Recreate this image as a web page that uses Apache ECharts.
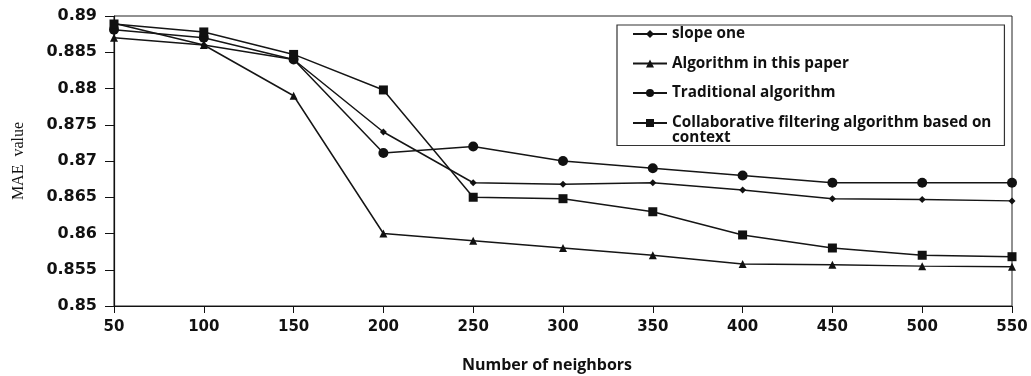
<!DOCTYPE html>
<html>
<head>
<meta charset="utf-8">
<script src="https://cdn.jsdelivr.net/npm/echarts@6/dist/echarts.min.js"></script>
<style>html,body{margin:0;padding:0;background:#fff;}#c{width:1031px;height:376px;}</style>
</head>
<body>
<div id="c"></div>
<script>
const categories = ['50','100','150','200','250','300','350','400','450','500','550'];
const slopeOne     = [0.8890, 0.8860, 0.8840, 0.8740, 0.8670, 0.8668, 0.8670, 0.8660, 0.8648, 0.8647, 0.8645];
const thisPaper    = [0.8870, 0.8860, 0.8790, 0.8600, 0.8590, 0.8580, 0.8570, 0.8558, 0.8557, 0.8555, 0.8554];
const traditional  = [0.8881, 0.8870, 0.8840, 0.8711, 0.8720, 0.8700, 0.8690, 0.8680, 0.8670, 0.8670, 0.8670];
const contextCF    = [0.8889, 0.8878, 0.8847, 0.8798, 0.8650, 0.8648, 0.8630, 0.8598, 0.8580, 0.8570, 0.8568];
const seriesNames = ['slope one', 'Algorithm in this paper', 'Traditional algorithm', 'Collaborative filtering algorithm based on context'];
const yTicks = { min: 0.85, max: 0.89, step: 0.005 };

const chart = echarts.init(document.getElementById('c'));
const lineStyle = { color: '#151515', width: 1.5 };
function mk(name, data, symbol, size) {
  return { name, type: 'line', data, symbol, symbolSize: size, showAllSymbol: true,
    lineStyle, itemStyle: { color: '#111' }, emphasis: { disabled: true }, animation: false };
}
const legendText = { fontFamily: 'Open Sans', fontWeight: 'bold', fontSize: 15.3, lineHeight: 15, color: '#111' };
chart.setOption({
  animation: false,
  grid: { left: 114, right: 19, top: 16, bottom: 70, show: true, borderColor: '#222', borderWidth: 1, outerBoundsMode: 'none', containLabel: false },
  legend: [
    {
      orient: 'vertical', left: 617, top: 25, z: 4,
      padding: [1.5, 13, 0, 15], itemGap: 14.5,
      itemWidth: 34, itemHeight: 10,
      textStyle: legendText,
      data: seriesNames.slice(0, 3).map(n => ({ name: n }))
    },
    {
      orient: 'vertical', left: 617, top: 25, z: 3,
      padding: [75.5, 13, 0, 15],
      itemWidth: 34, itemHeight: 10,
      borderColor: '#333', borderWidth: 1.2,
      textStyle: legendText,
      data: [{ name: seriesNames[3] }],
      formatter: function () { return '\nCollaborative filtering algorithm based on\ncontext'; }
    }
  ],
  xAxis: {
    type: 'category', data: categories, boundaryGap: false,
    name: 'Number of neighbors', nameLocation: 'middle', nameGap: 51,
    nameTextStyle: { fontFamily: 'Open Sans', fontWeight: 'bold', fontSize: 16, color: '#111', padding: [0, 32, 0, 0] },
    axisLine: { lineStyle: { color: '#111', width: 1.2 } },
    axisTick: { show: true, length: 7, lineStyle: { color: '#111' } },
    axisLabel: { fontFamily: 'DejaVu Sans', fontWeight: 'bold', fontSize: 15, color: '#111', margin: 14 },
    splitLine: { show: false }
  },
  yAxis: {
    type: 'value', min: yTicks.min, max: yTicks.max, interval: yTicks.step,
    name: 'MAE  value', nameLocation: 'middle', nameGap: 87,
    nameTextStyle: { fontFamily: 'Liberation Serif', fontSize: 16, color: '#111' },
    axisLine: { show: true, lineStyle: { color: '#111', width: 1.2 } },
    axisTick: { show: true, length: 9, lineStyle: { color: '#111' } },
    axisLabel: { fontFamily: 'DejaVu Sans', fontWeight: 'bold', fontSize: 16, color: '#111', margin: 17 },
    splitLine: { show: false }
  },
  series: [
    mk(seriesNames[0], slopeOne, 'diamond', 7),
    mk(seriesNames[1], thisPaper, 'triangle', 8),
    mk(seriesNames[2], traditional, 'circle', 10),
    mk(seriesNames[3], contextCF, 'rect', 9)
  ]
});
</script>
</body>
</html>
